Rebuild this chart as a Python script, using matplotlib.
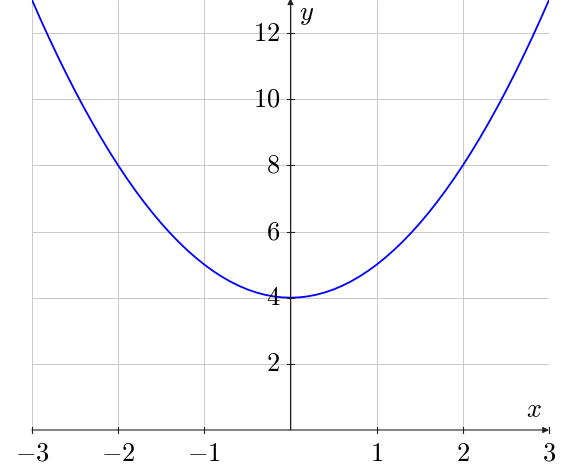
import numpy as np
import matplotlib.pyplot as plt

plt.rcParams["mathtext.fontset"] = "cm"
plt.rcParams["font.family"] = "serif"
plt.rcParams["font.serif"] = ["DejaVu Serif"]

# values, every 0.1 in x
x_vals = [round(-3 + 0.1 * i, 1) for i in range(61)]
y_left = [13.0, 12.41, 11.84, 11.29, 10.76, 10.25, 9.76, 9.29, 8.84, 8.41,
          8.0, 7.61, 7.24, 6.89, 6.56, 6.25, 5.96, 5.69, 5.44, 5.21,
          5.0, 4.81, 4.64, 4.49, 4.36, 4.25, 4.16, 4.09, 4.04, 4.01]
y_vals = y_left + [4.0] + y_left[::-1]
x_ticks = [-3, -2, -1, 1, 2, 3]
y_ticks = [2, 4, 6, 8, 10, 12]

fig = plt.figure(figsize=(5.75, 4.76), dpi=100)
ax = fig.add_axes([32 / 575, 46 / 476, 517 / 575, 430 / 476])

ax.plot(x_vals, y_vals, color="#0000ff", lw=1.3, zorder=3)

ax.set_xlim(-3, 3)
ax.set_ylim(0, 13)

for v in x_ticks + [0]:
    ax.axvline(v, color="#c0c0c0", lw=0.6, zorder=1)
for v in y_ticks:
    ax.axhline(v, color="#c0c0c0", lw=0.6, zorder=1)

for s in ["top", "right", "left", "bottom"]:
    ax.spines[s].set_visible(False)

# middle axis lines with arrows
ax.annotate("", xy=(3.0, 0), xytext=(-3, 0),
            arrowprops=dict(arrowstyle="-|>", color="#222222", lw=0.8,
                            mutation_scale=9, shrinkA=0, shrinkB=0), zorder=4)
ax.annotate("", xy=(0, 13.05), xytext=(0, 0),
            arrowprops=dict(arrowstyle="-|>", color="#222222", lw=0.8,
                            mutation_scale=9, shrinkA=0, shrinkB=0), zorder=4,
            annotation_clip=False)

ax.set_xticks([])
ax.set_yticks([])
for v in x_ticks:
    ax.plot([v, v], [-0.09, 0.09], color="#222222", lw=0.8, clip_on=False, zorder=4)
    ax.text(v, -0.33, rf"$-{abs(v)}$" if v < 0 else rf"${v}$", ha="center", va="top",
            fontsize=19)
for v in y_ticks:
    ax.plot([-0.035, 0.035], [v, v], color="#222222", lw=0.8, clip_on=False, zorder=4)
    ax.text(-0.12, v, rf"${v}$", ha="right", va="center", fontsize=19)

ax.text(2.82, 0.25, r"$x$", ha="center", va="bottom", fontsize=19)
ax.text(0.1, 12.55, r"$y$", ha="left", va="center", fontsize=19)

fig.savefig("out.png", dpi=100)
